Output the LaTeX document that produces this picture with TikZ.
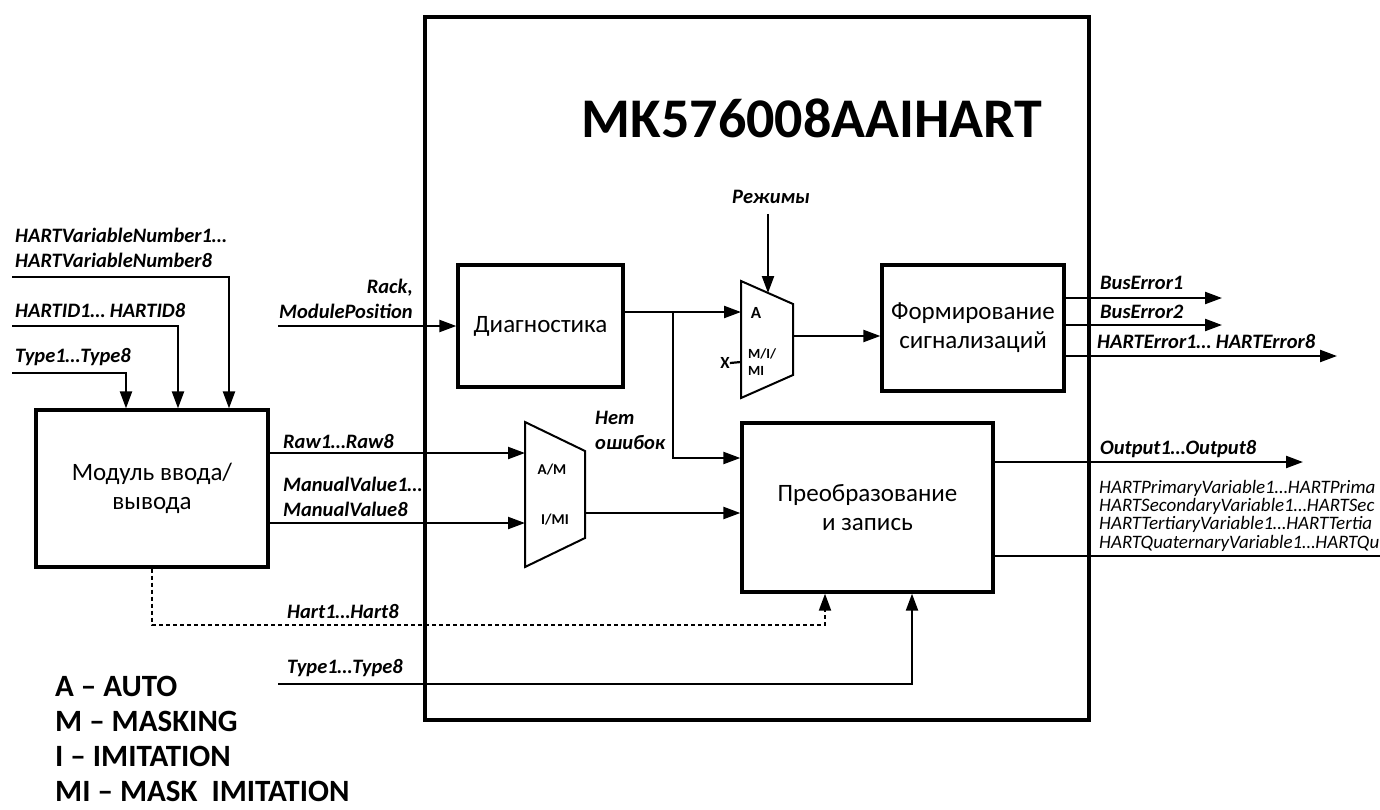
\documentclass[tikz,border=0pt]{standalone}
\usepackage{fontspec}
\setmainfont{Carlito}
\usetikzlibrary{arrows.meta}
\begin{document}
\begin{tikzpicture}[x=1pt,y=-1pt,
  box/.style={draw, line width=3.3pt, inner sep=0, align=center, font=\fontsize{25}{29}\selectfont},
  conn/.style={line width=2.2pt},
  arr/.style={conn, -{Triangle[length=17pt,width=12pt]}},
  lbl/.style={inner sep=0, anchor=west, align=left, font=\fontsize{20.5}{25}\selectfont\bfseries\itshape},
  lblr/.style={lbl, anchor=east, align=right},
  muxlbl/.style={inner sep=0, font=\fontsize{15}{16}\selectfont\bfseries},
  mux/.style={line width=2pt, line join=miter},
  legend/.style={inner sep=0, anchor=west, font=\fontsize{31}{36}\selectfont\bfseries},
  hv/.style={inner sep=0, anchor=west, align=left, font=\fontsize{19}{18.3}\selectfont\itshape},
  dots/.style={line width=2pt, dash pattern=on 4pt off 3pt},
]
\fill[white] (0,0) rectangle (1380,809);
\useasboundingbox (0,0) rectangle (1380,809);

% main frame and title
\node[box, minimum width=664pt, minimum height=703pt] (main) at (757,368.5) {};
\node[inner sep=0, font=\fontsize{56}{62}\selectfont\bfseries] (title) at (812,118) {MK576008AAIHART};

% blocks
\node[box, minimum width=165pt, minimum height=122pt] (diag) at (540.5,326) {Диагностика};
\node[box, minimum width=182pt, minimum height=126pt] (form) at (973,328) {Формирование\\сигнализаций};
\node[box, minimum width=251pt, minimum height=169pt] (conv) at (867.5,507.5) {Преобразование\\и запись};
\node[box, minimum width=232pt, minimum height=157pt] (modul) at (152,488.5) {Модуль ввода/\\вывода};

% mux 1
\coordinate (m1a) at (741,281);
\coordinate (m1b) at (793,304);
\coordinate (m1c) at (793,375);
\coordinate (m1d) at (741,398);
\draw[mux] (m1a) -- (m1b) -- (m1c) -- (m1d) -- cycle;
\coordinate (m1inA) at (741,312);
\coordinate (m1inX) at (741,362);
\coordinate (m1out) at (793,336);
\coordinate (m1top) at (768,293);
\node[muxlbl, font=\fontsize{17}{18}\selectfont\bfseries] (m1la) at (756,313) {A};
\node[muxlbl, align=left, anchor=west, font=\fontsize{14}{17}\selectfont\bfseries] (m1lb) at (748,362) {M/I/\\MI};
\node[muxlbl, font=\fontsize{17}{18}\selectfont\bfseries] (xl) at (725,363) {X};

% mux 2
\coordinate (m2a) at (525,422);
\coordinate (m2b) at (585,451);
\coordinate (m2c) at (585,538);
\coordinate (m2d) at (525,567);
\draw[mux] (m2a) -- (m2b) -- (m2c) -- (m2d) -- cycle;
\coordinate (m2inA) at (525,453);
\coordinate (m2inB) at (525,523);
\coordinate (m2out) at (585,513);
\node[muxlbl] (m2la) at (552,470) {A/M};
\node[muxlbl] (m2lb) at (555,520) {I/MI};

% labels
\node[lbl, anchor=center] (rezh) at (771,197) {Режимы};
\node[lbl] (lvn) at (15,247.5) {HARTVariableNumber1…\\HARTVariableNumber8};
\node[lbl] (lid) at (15,310) {HARTID1… HARTID8};
\node[lbl] (lt) at (15,357) {Type1…Type8};
\node[lblr] (lrack) at (413,298.5) {Rack,\\ModulePosition};
\node[lbl] (lraw) at (283,441) {Raw1…Raw8};
\node[lbl] (lman) at (283,496.5) {ManualValue1…\\ManualValue8};
\node[lbl] (lnet) at (595,430.5) {Нет\\ошибок};
\node[lbl] (lhart) at (287,611) {Hart1…Hart8};
\node[lbl] (ltype2) at (287,668) {Type1…Type8};
\node[lbl] (lbe1) at (1100,283) {BusError1};
\node[lbl] (lbe2) at (1100,312) {BusError2};
\node[lbl] (lhe) at (1097,341) {HARTError1… HARTError8};
\node[lbl] (lout) at (1100,449) {Output1…Output8};
\node[hv] (lhv) at (1099,515.5) {HARTPrimaryVariable1…HARTPrima\\HARTSecondaryVariable1…HARTSec\\HARTTertiaryVariable1…HARTTertia\\HARTQuaternaryVariable1…HARTQu};

% legend
\node[legend] (lg1) at (55,686) {A – AUTO};
\node[legend] (lg2) at (55,721) {M – MASKING};
\node[legend] (lg3) at (55,756) {I – IMITATION};
\node[legend] (lg4) at (55,791) {MI – MASK\ \ IMITATION};

% free ends
\coordinate (vin) at (12,277);
\coordinate (idin) at (12,326);
\coordinate (tin) at (12,373);
\coordinate (rackin) at (278,326);
\coordinate (tin2) at (278,684);
\coordinate (br) at (673,312);
\coordinate (be1) at (1222,298);
\coordinate (be2) at (1222,325);
\coordinate (he) at (1337,356);
\coordinate (out1) at (1303,462);
\coordinate (hvend) at (1380,556);

% connectors
\draw[arr] (vin) -| ([xshift=77pt]modul.north);
\draw[arr] (idin) -| ([xshift=26pt]modul.north);
\draw[arr] (tin) -| ([xshift=-26pt]modul.north);
\draw[arr] (rackin) -- (diag.west);
\draw[arr] (diag.east |- m1inA) -- (m1inA);
\draw[arr] (br) |- ([yshift=49.5pt]conv.west);
\draw[arr] (rezh.south -| m1top) ++(0,10) -- (m1top);
\draw[conn] (xl.east) -- (m1inX);
\draw[arr] (m1out) -- (form.west |- m1out);
\draw[arr] (form.east |- be1) -- (be1);
\draw[arr] (form.east |- be2) -- (be2);
\draw[arr] (form.east |- he) -- (he);
\draw[arr] (modul.east |- m2inA) -- (m2inA);
\draw[arr] (modul.east |- m2inB) -- (m2inB);
\draw[arr] (m2out) -- (conv.west |- m2out);
\draw[arr] (conv.east |- out1) -- (out1);
\draw[conn] (conv.east |- hvend) -- (hvend);
\draw[dots, -{Triangle[length=17pt,width=12pt]}] (modul.south) -- ++(0,56) -| ([xshift=-42.5pt]conv.south);
\draw[arr] (tin2) -| ([xshift=44.5pt]conv.south);
\end{tikzpicture}
\end{document}
